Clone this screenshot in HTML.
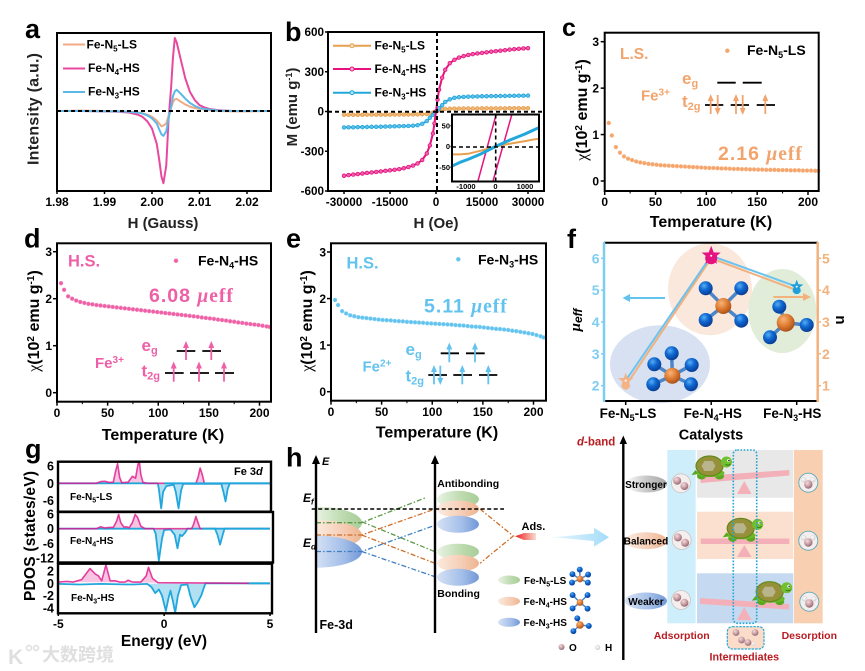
<!DOCTYPE html>
<html lang="en">
<head>
<meta charset="utf-8">
<title>Fe-N catalysts spin state figure</title>
<style>
html,body{margin:0;padding:0;background:#fff;}
svg{display:block;font-family:"Liberation Sans","Noto Sans CJK SC",sans-serif;font-weight:bold;filter:blur(.3px);}
.serif{font-family:"Liberation Serif",serif;}
</style>
</head>
<body>
<svg id="figure" xmlns="http://www.w3.org/2000/svg" width="865" height="671" viewBox="0 0 865 671">
<defs>
<radialGradient id="gb" cx="38%" cy="32%" r="70%"><stop offset="0" stop-color="#58aef2"/><stop offset=".45" stop-color="#0f68d2"/><stop offset="1" stop-color="#083c92"/></radialGradient>
<radialGradient id="go" cx="38%" cy="32%" r="70%"><stop offset="0" stop-color="#f8b478"/><stop offset=".55" stop-color="#dd7a30"/><stop offset="1" stop-color="#a85018"/></radialGradient>
<radialGradient id="gm" cx="38%" cy="32%" r="70%"><stop offset="0" stop-color="#f2dcdc"/><stop offset=".6" stop-color="#c598a0"/><stop offset="1" stop-color="#8e6670"/></radialGradient>
<radialGradient id="gw" cx="40%" cy="35%" r="70%"><stop offset="0" stop-color="#ffffff"/><stop offset="1" stop-color="#cfcfcf"/></radialGradient>
<linearGradient id="lg-green"><stop offset="0" stop-color="#e9f3e3"/><stop offset=".6" stop-color="#bcdaae"/><stop offset="1" stop-color="#a8cd98"/></linearGradient>
<linearGradient id="lg-peach"><stop offset="0" stop-color="#fbeade"/><stop offset=".6" stop-color="#f5cdb5"/><stop offset="1" stop-color="#edb48f"/></linearGradient>
<linearGradient id="lg-blue"><stop offset="0" stop-color="#d5e1f5"/><stop offset=".6" stop-color="#a3bee8"/><stop offset="1" stop-color="#7097d8"/></linearGradient>
<linearGradient id="lg-grey"><stop offset="0" stop-color="#ffffff"/><stop offset=".5" stop-color="#c8c8c8"/><stop offset="1" stop-color="#a8a8a8"/></linearGradient>
<linearGradient id="lg-red"><stop offset="0" stop-color="#ea1c1c"/><stop offset="1" stop-color="#fbdcd0"/></linearGradient>
<linearGradient id="lg-arrow"><stop offset="0" stop-color="#e6f6fe"/><stop offset="1" stop-color="#a4dcf8"/></linearGradient>
<marker id="ah-orange" markerWidth="7" markerHeight="7" refX="3" refY="3" orient="auto" markerUnits="userSpaceOnUse"><path d="M0 0L7 3L0 6z" fill="#f2a46d"/></marker>
<marker id="ah-pink" markerWidth="7" markerHeight="7" refX="3" refY="3" orient="auto" markerUnits="userSpaceOnUse"><path d="M0 0L7 3L0 6z" fill="#ee5fa7"/></marker>
<marker id="ah-blue" markerWidth="7" markerHeight="7" refX="3" refY="3" orient="auto" markerUnits="userSpaceOnUse"><path d="M0 0L7 3L0 6z" fill="#62c3ee"/></marker>
<g id="mol5">
<path d="M0 0L-18 -11.4M0 0L-.6 -22.4M0 0L19.4 -10.7M0 0L-19 8.6M0 0L18.7 8.6" stroke="#4a86c8" stroke-width="3.5"/>
<circle r="8" fill="url(#go)"/><circle cx="-18" cy="-11.4" r="7" fill="url(#gb)"/><circle cx="-.6" cy="-22.4" r="7" fill="url(#gb)"/><circle cx="19.4" cy="-10.7" r="7" fill="url(#gb)"/><circle cx="-19" cy="8.6" r="7" fill="url(#gb)"/><circle cx="18.7" cy="8.6" r="7" fill="url(#gb)"/>
</g>
<g id="mol4">
<path d="M0 0L-17.6 -17.7M0 0L18 -17.7M0 0L-17.6 14M0 0L18 14.7" stroke="#4a86c8" stroke-width="3.5"/>
<circle r="8" fill="url(#go)"/><circle cx="-17.6" cy="-17.7" r="7" fill="url(#gb)"/><circle cx="18" cy="-17.7" r="7" fill="url(#gb)"/><circle cx="-17.6" cy="14" r="7" fill="url(#gb)"/><circle cx="18" cy="14.7" r="7" fill="url(#gb)"/>
</g>
<g id="mol3">
<path d="M0 0L-6.4 -16M0 0L21 2.3M0 0L-15.7 14.6" stroke="#4a86c8" stroke-width="3.5"/>
<circle r="9" fill="url(#go)"/><circle cx="-6.4" cy="-16" r="7" fill="url(#gb)"/><circle cx="21" cy="2.3" r="7" fill="url(#gb)"/><circle cx="-15.7" cy="14.6" r="7" fill="url(#gb)"/>
</g>
<g id="turtle">
<ellipse cx="-10" cy="9" rx="4.5" ry="3.5" fill="#5aa820"/><ellipse cx="8" cy="9" rx="4.5" ry="3.5" fill="#5aa820"/><path d="M-16 3L-20 8L-12 7z" fill="#5aa820"/>
<ellipse cx="-1" cy="6" rx="14" ry="4" fill="#6bb82a"/>
<ellipse cx="-2" cy="-1" rx="13.5" ry="10" fill="#96903a" stroke="#5f8a18" stroke-width="1.2"/>
<polygon points="-7,-6 1,-6 4,-1 1,4 -7,4 -10,-1" fill="#b8b48c"/>
<circle cx="15" cy="-5" r="5.5" fill="#70c030"/><circle cx="17" cy="-6.5" r="1.4" fill="#fff"/><circle cx="17.4" cy="-6.4" r=".7" fill="#000"/><path d="M14 -2.5Q17 -1 19 -3" stroke="#2a5a10" stroke-width=".7" fill="none"/>
</g>
<g id="o2">
<circle cx="-3.8" cy="-2.6" r="4" fill="url(#gm)"/><circle cx="3.4" cy="2.8" r="4" fill="url(#gm)"/>
</g>
<g id="h2o">
<circle cx="-4.6" cy="-3.6" r="2.5" fill="url(#gw)" stroke="#ccc" stroke-width=".3"/><circle cx="4.6" cy="-3.6" r="2.5" fill="url(#gw)" stroke="#ccc" stroke-width=".3"/><circle cx="0" cy="1" r="4.2" fill="url(#gm)"/>
</g>
<clipPath id="clip-inset"><rect x="452" y="115" width="87" height="66"/></clipPath>
<clipPath id="clip-g1"><rect x="58" y="462" width="213" height="49"/></clipPath>
<clipPath id="clip-g2"><rect x="58" y="513" width="214" height="49"/></clipPath>
<clipPath id="clip-g3"><rect x="58" y="564" width="213" height="49"/></clipPath>
</defs>

<!-- panel a -->
<g id="panel-a">
<text x="25" y="38" font-size="27">a</text>
<g id="a-marks"></g>
<line x1="57" x2="271" y1="111" y2="111" stroke="#000" stroke-width="2" stroke-dasharray="4 3"/>
<rect x="57" y="33" width="214" height="158" fill="none" stroke="#000" stroke-width="2"/>
<g font-size="12">
<line x1="63" x2="85" y1="44.5" y2="44.5" stroke="#f0aa85" stroke-width="2"/>
<text x="86.5" y="48.5">Fe-N<tspan dy="3" font-size="8">5</tspan><tspan dy="-3">-LS</tspan></text>
<line x1="63" x2="85" y1="68.5" y2="68.5" stroke="#e8489f" stroke-width="2"/>
<text x="88" y="72">Fe-N<tspan dy="3" font-size="8">4</tspan><tspan dy="-3">-HS</tspan></text>
<line x1="63" x2="85" y1="92" y2="92" stroke="#5cb8e6" stroke-width="2"/>
<text x="88" y="95.5">Fe-N<tspan dy="3" font-size="8">3</tspan><tspan dy="-3">-HS</tspan></text>
</g>
<text transform="translate(38.5,109) rotate(-90)" text-anchor="middle" font-size="16" textLength="112" fill="#222">Intensity (a.u.)</text>
<text x="163" y="228" text-anchor="middle" font-size="15" fill="#222">H (Gauss)</text>
</g>

<!-- panel b -->
<g id="panel-b">
<text x="285" y="41" font-size="27">b</text>
<g id="b-marks"></g>
<line x1="328" x2="544" y1="111.7" y2="111.7" stroke="#000" stroke-width="2" stroke-dasharray="4 3"/>
<line x1="437" x2="437" y1="32" y2="191" stroke="#000" stroke-width="2" stroke-dasharray="4 3"/>
<rect x="328" y="32" width="216" height="159" fill="none" stroke="#000" stroke-width="2"/>
<rect x="452" y="114.5" width="87" height="67" fill="#fff"/>
<g id="b-inset" clip-path="url(#clip-inset)"></g>
<line x1="452" x2="539" y1="147" y2="147" stroke="#000" stroke-width="1.6" stroke-dasharray="4 3"/>
<line x1="495.7" x2="495.7" y1="114.5" y2="181" stroke="#000" stroke-width="1.6" stroke-dasharray="4 3"/>
<rect x="452" y="114.5" width="87" height="67" fill="none" stroke="#000" stroke-width="2"/>
<g id="b-inset-labels"></g>
<g font-size="12">
<line x1="333" x2="371" y1="45.7" y2="45.7" stroke="#e8a050" stroke-width="2"/>
<circle cx="352" cy="45.7" r="2" fill="#fbe0c0" stroke="#e8a050" stroke-width="1"/>
<text x="374.5" y="49.5">Fe-N<tspan dy="3" font-size="8">5</tspan><tspan dy="-3">-LS</tspan></text>
<line x1="333" x2="371" y1="69" y2="69" stroke="#e5127f" stroke-width="2"/>
<circle cx="352" cy="69" r="2" fill="#f8b0d0" stroke="#e5127f" stroke-width="1"/>
<text x="374.5" y="73">Fe-N<tspan dy="3" font-size="8">4</tspan><tspan dy="-3">-HS</tspan></text>
<line x1="333" x2="371" y1="92.7" y2="92.7" stroke="#22a7dc" stroke-width="2"/>
<circle cx="352" cy="92.7" r="2" fill="#b0e0f4" stroke="#22a7dc" stroke-width="1"/>
<text x="374.5" y="96.5">Fe-N<tspan dy="3" font-size="8">3</tspan><tspan dy="-3">-HS</tspan></text>
</g>
<text transform="translate(297,107) rotate(-90)" text-anchor="middle" font-size="15" fill="#222">M (emu g<tspan dy="-5" font-size="9">-1</tspan><tspan dy="5">)</tspan></text>
<text x="436" y="228" text-anchor="middle" font-size="15" fill="#222">H (Oe)</text>
</g>

<!-- panel c -->
<g id="panel-c">
<text x="562" y="36" font-size="25">c</text>
<g id="c-marks"></g>
<rect x="604.7" y="32.7" width="214" height="158.3" fill="none" stroke="#000" stroke-width="2"/>
<text x="620" y="59" font-size="15.5" fill="#f2a46d">L.S.</text>
<text x="747" y="55" font-size="14">Fe-N<tspan dy="3" font-size="9">5</tspan><tspan dy="-3">-LS</tspan></text>
<text x="718" y="160" font-size="19.5" fill="#f2a46d" letter-spacing="1">2.16 <tspan class="serif" font-style="italic">μ</tspan><tspan class="serif">eff</tspan></text>
<text x="641" y="100.5" font-size="15" fill="#f2a46d">Fe<tspan dy="-5" font-size="10">3+</tspan></text>
<text x="682" y="84" font-size="17" fill="#f2a46d">e<tspan dy="3" font-size="11">g</tspan></text>
<text x="682" y="107" font-size="17" fill="#f2a46d">t<tspan dy="3" font-size="11">2g</tspan></text>
<g stroke-width="1.8">
<path d="M717.3 82.7H735.7M742.7 82.7H761.7M705 105H723.3M730.7 105H749M756.7 105H775" stroke="#000" fill="none"/>
<g stroke="#f2a46d">
<line x1="710.7" x2="710.7" y1="114" y2="98" marker-end="url(#ah-orange)"/>
<line x1="717.7" x2="717.7" y1="95" y2="111" marker-end="url(#ah-orange)"/>
<line x1="736" x2="736" y1="114" y2="98" marker-end="url(#ah-orange)"/>
<line x1="742.7" x2="742.7" y1="95" y2="111" marker-end="url(#ah-orange)"/>
<line x1="765.3" x2="765.3" y1="114" y2="98" marker-end="url(#ah-orange)"/>
</g>
</g>
<text transform="translate(587,110) rotate(-90)" text-anchor="middle" font-size="16"><tspan class="serif" font-weight="normal">χ</tspan>(10<tspan dy="-5" font-size="10">2</tspan><tspan dy="5"> emu g</tspan><tspan dy="-5" font-size="10">-1</tspan><tspan dy="5">)</tspan></text>
<text x="711" y="227" text-anchor="middle" font-size="16">Temperature (K)</text>
</g>

<!-- panel d -->
<g id="panel-d">
<text x="24" y="247.5" font-size="27">d</text>
<g id="d-marks"></g>
<rect x="57" y="243.3" width="214" height="158.4" fill="none" stroke="#000" stroke-width="2"/>
<text x="68" y="266.5" font-size="16.5" fill="#ee5fa7">H.S.</text>
<text x="198" y="265.5" font-size="14">Fe-N<tspan dy="3" font-size="9">4</tspan><tspan dy="-3">-HS</tspan></text>
<text x="149" y="302" font-size="19.5" fill="#ee5fa7" letter-spacing="1">6.08 <tspan class="serif" font-style="italic">μ</tspan><tspan class="serif">eff</tspan></text>
<text x="95" y="368" font-size="15" fill="#ee5fa7">Fe<tspan dy="-5" font-size="10">3+</tspan></text>
<text x="141.5" y="351" font-size="17" fill="#ee5fa7">e<tspan dy="3" font-size="11">g</tspan></text>
<text x="141.5" y="376.5" font-size="17" fill="#ee5fa7">t<tspan dy="3" font-size="11">2g</tspan></text>
<g stroke-width="1.8">
<path d="M176.7 351H195.3M202.3 351H221M165 373H183.7M190 373H209M215 373H234" stroke="#000" fill="none"/>
<g stroke="#ee5fa7">
<line x1="186" x2="186" y1="360" y2="345" marker-end="url(#ah-pink)"/>
<line x1="211.3" x2="211.3" y1="360" y2="345" marker-end="url(#ah-pink)"/>
<line x1="173.7" x2="173.7" y1="381.7" y2="365.5" marker-end="url(#ah-pink)"/>
<line x1="199" x2="199" y1="381.7" y2="365.5" marker-end="url(#ah-pink)"/>
<line x1="224" x2="224" y1="381.7" y2="365.5" marker-end="url(#ah-pink)"/>
</g>
</g>
<text transform="translate(39,321) rotate(-90)" text-anchor="middle" font-size="16"><tspan class="serif" font-weight="normal">χ</tspan>(10<tspan dy="-5" font-size="10">2</tspan><tspan dy="5"> emu g</tspan><tspan dy="-5" font-size="10">-1</tspan><tspan dy="5">)</tspan></text>
<text x="163" y="440" text-anchor="middle" font-size="16">Temperature (K)</text>
</g>

<!-- panel e -->
<g id="panel-e">
<text x="286" y="247.5" font-size="27">e</text>
<g id="e-marks"></g>
<rect x="331" y="243.3" width="215" height="157.4" fill="none" stroke="#000" stroke-width="2"/>
<text x="346.5" y="268.5" font-size="16.5" fill="#62c3ee">H.S.</text>
<text x="478" y="264.5" font-size="14">Fe-N<tspan dy="3" font-size="9">3</tspan><tspan dy="-3">-HS</tspan></text>
<text x="424" y="312.5" font-size="19.5" fill="#62c3ee" letter-spacing="1">5.11 <tspan class="serif" font-style="italic">μ</tspan><tspan class="serif">eff</tspan></text>
<text x="362.5" y="371.5" font-size="15" fill="#62c3ee">Fe<tspan dy="-5" font-size="10">2+</tspan></text>
<text x="405.5" y="355" font-size="17" fill="#62c3ee">e<tspan dy="3" font-size="11">g</tspan></text>
<text x="405.5" y="381.5" font-size="17" fill="#62c3ee">t<tspan dy="3" font-size="11">2g</tspan></text>
<g stroke-width="1.8">
<path d="M440.7 353.3H459M466 353.3H484.7M428.3 375H447M453.3 375H472M479 375H497.3" stroke="#000" fill="none"/>
<g stroke="#62c3ee">
<line x1="449.3" x2="449.3" y1="362.3" y2="346.5" marker-end="url(#ah-blue)"/>
<line x1="475" x2="475" y1="362.3" y2="346.5" marker-end="url(#ah-blue)"/>
<line x1="434" x2="434" y1="384.3" y2="369" marker-end="url(#ah-blue)"/>
<line x1="440.3" x2="440.3" y1="365.7" y2="381" marker-end="url(#ah-blue)"/>
<line x1="462.3" x2="462.3" y1="384.3" y2="369" marker-end="url(#ah-blue)"/>
<line x1="488.3" x2="488.3" y1="384.3" y2="369" marker-end="url(#ah-blue)"/>
</g>
</g>
<text transform="translate(312,321) rotate(-90)" text-anchor="middle" font-size="16"><tspan class="serif" font-weight="normal">χ</tspan>(10<tspan dy="-5" font-size="10">2</tspan><tspan dy="5"> emu g</tspan><tspan dy="-5" font-size="10">-1</tspan><tspan dy="5">)</tspan></text>
<text x="437" y="437.5" text-anchor="middle" font-size="16">Temperature (K)</text>
</g>

<!-- panel f -->
<g id="panel-f">
<text x="567" y="248" font-size="27">f</text>
<ellipse cx="660" cy="364.3" rx="50" ry="39" fill="#d8e1f1"/>
<ellipse cx="710" cy="289.3" rx="42" ry="46" fill="#fbe8dc"/>
<ellipse cx="782.3" cy="311" rx="34" ry="42" fill="#e2edd9"/>
<use href="#mol5" transform="translate(672.3,375.7)"/>
<use href="#mol4" transform="translate(723.3,306)"/>
<use href="#mol3" transform="translate(785.7,322.7)"/>
<line x1="604" x2="818" y1="242.7" y2="242.7" stroke="#000" stroke-width="2"/>
<line x1="604" x2="818" y1="401" y2="401" stroke="#000" stroke-width="2"/>
<line x1="604" x2="604" y1="242" y2="402" stroke="#7fcdf0" stroke-width="2.5"/>
<line x1="817.7" x2="817.7" y1="242" y2="402" stroke="#f2b27e" stroke-width="2.5"/>
<g id="f-marks"></g>
<path d="M665 297H630V294L622.5 298L630 302V299H665z" fill="#62c3ee"/>
<path d="M773.3 296H803V293L811 297L803 301V298H773.3z" fill="#f2b27e"/>
<text transform="translate(580,320) rotate(-90)" text-anchor="middle" font-size="15" font-style="italic" class="serif"><tspan>μ</tspan><tspan dy="2" font-size="12" font-family="Liberation Sans">eff</tspan></text>
<text transform="translate(836,320) rotate(90)" text-anchor="middle" font-size="15">n</text>
<text x="711" y="439.5" text-anchor="middle" font-size="14.5">Catalysts</text>
</g>

<!-- panel g -->
<g id="panel-g">
<text x="25" y="458" font-size="27">g</text>
<g id="g-marks"></g>
<rect x="58" y="461.7" width="213" height="50" fill="none" stroke="#000" stroke-width="2.4"/>
<rect x="58" y="512" width="215" height="50.5" fill="none" stroke="#000" stroke-width="2.4"/>
<rect x="58" y="563.7" width="214" height="49.6" fill="none" stroke="#000" stroke-width="2.4"/>
<text x="234" y="475" font-size="11">Fe 3<tspan font-style="italic">d</tspan></text>
<text x="70" y="500" font-size="10">Fe-N<tspan dy="2.5" font-size="7">5</tspan><tspan dy="-2.5">-LS</tspan></text>
<text x="70" y="544" font-size="10">Fe-N<tspan dy="2.5" font-size="7">4</tspan><tspan dy="-2.5">-HS</tspan></text>
<text x="71" y="601" font-size="10">Fe-N<tspan dy="2.5" font-size="7">3</tspan><tspan dy="-2.5">-HS</tspan></text>
<text transform="translate(35,536) rotate(-90)" text-anchor="middle" font-size="15.5" textLength="130">PDOS (states/eV)</text>
<text x="164" y="646" text-anchor="middle" font-size="15.5">Energy (eV)</text>
</g>

<!-- watermark -->
<g fill="#dfdfdf">
<text x="8" y="664" font-size="21">K</text>
<circle cx="29" cy="648" r="2.5" fill="none" stroke="#dfdfdf" stroke-width="1.5"/>
<circle cx="36" cy="648" r="2.5" fill="none" stroke="#dfdfdf" stroke-width="1.5"/>
<text x="42" y="661" font-size="18">大数跨境</text>
</g>

<!-- panel h -->
<g id="panel-h">
<text x="286" y="466.5" font-size="27">h</text>
<g>
<path d="M316 506.7A46 16 0 0 1 316 538.7Z" fill="url(#lg-green)"/>
<path d="M316 520A46 15 0 0 1 316 550Z" fill="url(#lg-peach)"/>
<path d="M316 535.7A46 16 0 0 1 316 567.7Z" fill="url(#lg-blue)"/>
</g>
<g>
<ellipse cx="458" cy="499.3" rx="21" ry="8.5" fill="url(#lg-green)"/>
<ellipse cx="458" cy="509" rx="21" ry="8.5" fill="url(#lg-peach)"/>
<ellipse cx="458" cy="524.3" rx="21" ry="8.5" fill="url(#lg-blue)"/>
<ellipse cx="458" cy="551.7" rx="21" ry="8" fill="url(#lg-green)"/>
<ellipse cx="458" cy="563.3" rx="21" ry="8.5" fill="url(#lg-peach)"/>
<ellipse cx="458" cy="577.3" rx="21" ry="8.5" fill="url(#lg-blue)"/>
</g>
<g fill="none" stroke-width="1.3" stroke-dasharray="5 2 1.5 2">
<path d="M316 522.7H361.7L426.7 497.3M361.7 521.7L435 551.7" stroke="#5d9a48"/>
<path d="M316 535H361.7L435 509M361.7 535L435 563.3M480 509L513.3 536L480 563.3" stroke="#cf6e28"/>
<path d="M316 551.5H361.7L435 525.3M361.7 551.5L435 576.7" stroke="#3f7fc4"/>
</g>
<line x1="311.7" x2="504" y1="509" y2="509" stroke="#000" stroke-width="1.6" stroke-dasharray="4 2.5"/>
<line x1="316" x2="316" y1="633" y2="462" stroke="#000" stroke-width="2.4"/>
<path d="M316 455L320 464H312z" fill="#000"/>
<line x1="435" x2="435" y1="633" y2="462" stroke="#000" stroke-width="2.4"/>
<path d="M435 455L439 464H431z" fill="#000"/>
<path d="M515 536.3L524 533H536V540H524z" fill="url(#lg-red)"/>
<text x="521.5" y="530" font-size="11">Ads.</text>
<text x="322" y="465" font-size="11" font-style="italic">E</text>
<text x="303" y="502" font-size="12" font-style="italic">E<tspan dy="2.5" font-size="8">f</tspan></text>
<text x="303" y="547" font-size="12" font-style="italic">E<tspan dy="2.5" font-size="8">d</tspan></text>
<text x="437.3" y="487" font-size="10.5">Antibonding</text>
<text x="437.3" y="597" font-size="10.5">Bonding</text>
<text x="319.5" y="629" font-size="12.5">Fe-3d</text>
<g font-size="10">
<ellipse cx="509" cy="580" rx="11" ry="4.5" fill="url(#lg-green)"/>
<text x="524" y="584">Fe-N<tspan dy="2.5" font-size="7">5</tspan><tspan dy="-2.5">-LS</tspan></text>
<ellipse cx="509" cy="601.3" rx="11" ry="4.5" fill="url(#lg-peach)"/>
<text x="523.5" y="605">Fe-N<tspan dy="2.5" font-size="7">4</tspan><tspan dy="-2.5">-HS</tspan></text>
<ellipse cx="509" cy="622.3" rx="11" ry="4.5" fill="url(#lg-blue)"/>
<text x="523.5" y="626">Fe-N<tspan dy="2.5" font-size="7">3</tspan><tspan dy="-2.5">-HS</tspan></text>
<use href="#mol5" transform="translate(580,579) scale(.42)"/>
<use href="#mol4" transform="translate(580,602.5) scale(.42)"/>
<use href="#mol3" transform="translate(580,625) scale(.42)"/>
<circle cx="561.5" cy="647" r="3" fill="url(#gm)"/>
<text x="569" y="651">O</text>
<circle cx="597.7" cy="647.5" r="2.3" fill="url(#gw)" stroke="#bbb" stroke-width=".3"/>
<text x="605" y="651">H</text>
</g>
<path d="M553 537.3L594 533.5V527.8L609 537.3L594 546.8V541z" fill="url(#lg-arrow)"/>
</g>

<!-- sabatier schematic -->
<g>
<line x1="623.3" x2="623.3" y1="660" y2="441" stroke="#000" stroke-width="2.4"/>
<path d="M623.3 435.5L627 444H619.6z" fill="#000"/>
<text x="577" y="445.5" font-size="11.5" fill="#b81c22"><tspan font-style="italic">d</tspan>-band</text>
<rect x="667.3" y="450" width="28.4" height="173.3" fill="#cfeefb"/>
<rect x="697" y="450" width="96.3" height="47.7" fill="#e8e8e8"/>
<rect x="697" y="511.7" width="96.3" height="47.3" fill="#fbe0d0"/>
<rect x="697" y="573.3" width="96.3" height="50" fill="#c5daf0"/>
<rect x="794" y="450" width="28.7" height="173.3" fill="#f8cfb0"/>
<ellipse cx="646" cy="484" rx="21" ry="8.5" fill="url(#lg-grey)"/>
<ellipse cx="646" cy="540.7" rx="21" ry="8.5" fill="url(#lg-peach)"/>
<ellipse cx="646" cy="601" rx="21" ry="8.5" fill="url(#lg-blue)"/>
<text x="646" y="488" font-size="10" text-anchor="middle">Stronger</text>
<text x="646" y="544.5" font-size="10" text-anchor="middle">Balanced</text>
<text x="646" y="605" font-size="10" text-anchor="middle">Weaker</text>
<g fill="#f4b0b8">
<polygon points="700.7,476 789.3,470 789.3,475.5 700.7,483"/>
<polygon points="744.3,481 751.5,494 737,494"/>
<rect x="700.7" y="538.5" width="88.6" height="5.5"/>
<polygon points="744.3,545 751.5,557 737,557"/>
<polygon points="700,598 789.3,604 789.3,609.5 700,604"/>
<polygon points="744.3,607 751.5,620 737,620"/>
</g>
<use href="#turtle" transform="translate(711.5,467)"/>
<use href="#turtle" transform="translate(742.7,529.3)"/>
<use href="#turtle" transform="translate(771.7,592.7)"/>
<rect x="733.3" y="450" width="23.4" height="173.3" rx="4" fill="none" stroke="#1fa5d8" stroke-width="1.6" stroke-dasharray="1.6 1.6"/>
<g fill="#f4eeee" stroke="#c8c4c4" stroke-width=".8">
<circle cx="681" cy="483.3" r="9.5"/>
<circle cx="681.7" cy="540" r="9.5"/>
<circle cx="681" cy="600" r="9.5"/>
</g>
<use href="#o2" transform="translate(681,483.3)"/>
<use href="#o2" transform="translate(681.7,540)"/>
<use href="#o2" transform="translate(681,600)"/>
<g fill="#f4eeee" stroke="#5ba8b8" stroke-width=".9">
<circle cx="808.3" cy="482.7" r="9.5"/>
<circle cx="808.3" cy="540.7" r="9.5"/>
<circle cx="809.3" cy="601.7" r="9.5"/>
</g>
<use href="#h2o" transform="translate(808.3,483.5)"/>
<use href="#h2o" transform="translate(808.3,541.5)"/>
<use href="#h2o" transform="translate(809.3,602.5)"/>
<rect x="727.3" y="626.7" width="36.7" height="22.3" rx="5" fill="#fbdcc8" stroke="#28a8d8" stroke-width="1.2" stroke-dasharray="2.5 1"/>
<g>
<circle cx="736" cy="632.5" r="3.4" fill="url(#gm)"/>
<circle cx="755" cy="632.5" r="3.4" fill="url(#gm)"/>
<circle cx="741.5" cy="640" r="3.4" fill="url(#gm)"/>
<circle cx="748" cy="642.5" r="3.4" fill="url(#gm)"/>
<circle cx="753.5" cy="644" r="1.8" fill="url(#gw)"/>
</g>
<text x="681.7" y="639" font-size="10.5" text-anchor="middle" fill="#b81c22">Adsorption</text>
<text x="809.3" y="639" font-size="10.5" text-anchor="middle" fill="#b81c22">Desorption</text>
<text x="744.3" y="660.5" font-size="10.7" text-anchor="middle" fill="#b81c22">Intermediates</text>
</g>

<script>
// ---------- panel a: EPR ----------
const aField=[1.98,1.985,1.99,1.993,1.995,1.997,1.998,1.999,2.0,2.001,2.0015,2.002,2.0024,2.003,2.0035,2.004,2.0044,2.0048,2.0052,2.006,2.007,2.008,2.009,2.01,2.011,2.012,2.014,2.017,2.02,2.025];
const aN4=[0,0,-.005,-.01,-.02,-.05,-.08,-.14,-.24,-.45,-.66,-.9,-.99,-.75,-.1,.3,.72,1,.94,.72,.45,.26,.15,.08,.05,.03,.01,0,0,0];
const aN3=[0,0,-.003,-.005,-.01,-.02,-.035,-.06,-.1,-.17,-.25,-.32,-.34,-.28,-.1,.05,.2,.27,.29,.24,.17,.11,.07,.04,.03,.02,.005,0,0,0];
const aN5=[0,.005,0,-.005,-.01,-.02,-.03,-.05,-.08,-.13,-.17,-.21,-.2,-.17,-.06,.04,.12,.16,.165,.13,.09,.06,.04,.03,.02,.01,0,-.005,-.005,0];
const aTicks=[1.98,1.99,2.0,2.01,2.02];
const aTickLabels=['1.98','1.99','2.00','2.01','2.02'];

// ---------- panel b: M-H ----------
const bField=[-30000,-28500,-27000,-25500,-24000,-22500,-21000,-19500,-18000,-16500,-15000,-13500,-12000,-10500,-9000,-7500,-6000,-4500,-3000,-2000,-1000,-500,0,500,1000,2000,3000,4500,6000,7500,9000,10500,12000,13500,15000,16500,18000,19500,21000,22500,24000,25500,27000,28500,30000];
const bN4=[-485,-480,-476,-472,-468,-464,-460,-456,-452,-448,-444,-440,-435,-428,-419,-408,-392,-366,-316,-256,-166,-90,0,90,165,255,315,365,390,407,418,427,433,438,442,447,451,455,459,463,467,470,473,476,478];
const bN3=[-120,-119,-119,-118,-118,-117,-116,-116,-115,-114,-113,-112,-111,-110,-109,-107,-103,-93,-72,-48,-25,-12,0,12,25,48,72,92,103,108,110,112,113,114,115,115,116,116,117,117,118,118,119,119,120];
const bN5=[-25,-25,-25,-25,-25,-24,-24,-24,-24,-24,-24,-23,-23,-23,-23,-22,-22,-21,-19,-15,-9,-5,0,5,9,15,19,21,22,22,23,23,23,23,24,24,24,24,24,24,25,25,25,25,25];
const bXTicks=[-30000,-15000,0,15000,30000];
const bXLabels=['-30000','-15000','0','15000','30000'];
const bYTicks=[600,300,0,-300,-600];
const bYLabels=['600','300','0','-300','-600'];
const insetField=[-1500,-1200,-900,-500,0,500,1000,1300,1500];
const insetN3=[-48,-38,-30,-18,0,16,30,40,46];
const insetN5=[-19,-19,-17,-10,0,7,13,17,19];
const insetLoopLeftH=[-590,34];
const insetLoopLeftM=[-82,80];
const insetLoopRightH=[-80,567];
const insetLoopRightM=[-82,80];
const insetXTicks=[-1000,0,1000];
const insetXLabels=['-1000','0','1000'];
const insetYTicks=[50,0,-50];
const insetYLabels=['50','0','-50'];

// ---------- panels c, d, e: chi-T ----------
const chiTemperature=[4,7,11,15,19,23,27,31,35,39,43,47,51,55,59,63,67,71,75,79,83,87,91,95,99,103,107,111,115,119,123,127,131,135,139,143,147,151,155,159,163,167,171,175,179,183,187,191,195,199,203,207,210];
const chiN5=[1.25,.98,.73,.61,.53,.48,.45,.42,.40,.385,.37,.36,.35,.34,.335,.33,.325,.32,.315,.31,.305,.30,.295,.29,.285,.28,.28,.275,.27,.27,.265,.26,.26,.255,.255,.25,.25,.245,.245,.24,.24,.24,.235,.235,.235,.23,.23,.23,.225,.225,.225,.22,.22];
const chiN4=[2.33,2.19,2.05,2.0,1.96,1.93,1.91,1.89,1.88,1.865,1.855,1.845,1.835,1.825,1.815,1.805,1.795,1.785,1.775,1.765,1.755,1.745,1.735,1.725,1.715,1.705,1.695,1.685,1.675,1.665,1.655,1.645,1.635,1.625,1.615,1.6,1.59,1.58,1.57,1.555,1.545,1.535,1.52,1.51,1.495,1.485,1.47,1.46,1.45,1.44,1.425,1.41,1.40];
const chiN3=[1.97,1.86,1.73,1.68,1.64,1.62,1.60,1.59,1.58,1.57,1.56,1.55,1.54,1.535,1.53,1.52,1.515,1.51,1.50,1.495,1.49,1.485,1.48,1.47,1.465,1.46,1.455,1.45,1.445,1.44,1.43,1.425,1.42,1.41,1.40,1.395,1.39,1.38,1.37,1.36,1.35,1.345,1.335,1.325,1.31,1.30,1.285,1.27,1.255,1.24,1.215,1.19,1.165];
const chiXTicks=[0,50,100,150,200];
const chiXLabels=['0','50','100','150','200'];
const chiXMinor=[25,75,125,175];
const chiYTicks=[0,1,2,3];
const chiYLabels=['0','1','2','3'];

// ---------- panel f ----------
const catalysts=['Fe-N5-LS','Fe-N4-HS','Fe-N3-HS'];
const catalystSubs=['5','4','3'];
const catalystEnds=['-LS','-HS','-HS'];
const muEff=[2.16,6.08,5.11];
const nElectrons=[1,5,4];
const fLeftTicks=[2,3,4,5,6];
const fLeftLabels=['2','3','4','5','6'];
const fRightTicks=[1,2,3,4,5];
const fRightLabels=['1','2','3','4','5'];

// ---------- panel g: PDOS ----------
const g1UpE=[-5,-3.2,-3,-2.8,-2.6,-2.4,-2.3,-2.2,-2.1,-2,-1.7,-1.5,-1.35,-1.25,-1.18,-1.1,-1,-.8,1.5,1.6,1.7,1.8,1.9,5];
const g1Up=[0,0,.6,.7,.3,.4,4,6.8,2,.2,.4,2.4,1.8,6,8,3,.3,0,0,2,5.3,3,0,0];
const g1DownE=[-5,-.4,-.3,-.25,-.14,-.05,.1,.3,.45,.55,.68,.8,.9,2.7,2.8,2.9,3,3.1,5];
const g1Down=[0,0,0,-2,-8.7,-3,-1,-.7,-.5,-3,-8.7,-2.5,-.2,-.2,-3,-6.3,-2,0,0];
const g2UpE=[-5,-3.2,-3,-2.8,-2.6,-2.4,-2.25,-2.15,-2.05,-1.9,-1.8,-1.65,-1.5,-1.37,-1.25,-1.1,-.9,1.3,1.4,1.5,1.6,1.7,5];
const g2Up=[0,0,.8,.3,.5,.5,3,5.8,2.5,.6,.8,.4,2.5,5.8,4.5,1,0,0,2,5,2.5,0,0];
const g2DownE=[-5,-.5,-.4,-.25,-.1,0,.3,.5,.63,.75,.85,1,1.1,2.4,2.52,2.64,2.75,2.85,5];
const g2Down=[0,0,-2,-13,-4,-.5,-.3,-2.5,-8,-2.5,-3,-1.5,0,0,-2.5,-6.5,-3,0,0];
const g3UpE=[-5,-4.6,-4.3,-3.9,-3.5,-3.25,-3.1,-2.95,-2.75,-2.55,-2.3,-2.1,-1.85,-1.7,-1.5,-1.3,-1.1,-.85,-.74,-.55,-.3,4,5];
const g3Up=[.2,.3,.2,.6,2.4,1.5,1.2,.4,3,.4,.4,.2,.2,.5,.2,.2,.2,1.2,2.6,.8,.1,0,0];
const g3DownE=[-5,-4,-3,-1.5,-.8,-.6,-.42,-.25,-.1,.08,.2,.3,.42,.52,.65,.8,1.1,1.25,1.43,1.6,1.75,1.95,5];
const g3Down=[-.1,-.2,-.1,-.2,-.1,-.6,-1.6,-1,-2,-4.5,-2.5,-1.2,-3,-4.8,-2,-.3,-.2,-2.2,-3.9,-3,-2,0,0];
const gXTicks=[-5,0,5];
const gXLabels=['-5','0','5'];
const g1YTicks=[6,0,-6];
const g1YLabels=['6','0','-6'];
const g2YTicks=[6,0,-6,-12];
const g2YLabels=['6','0','-6','-12'];
const g3YTicks=[2,0,-2,-4];
const g3YLabels=['2','0','-2','-4'];

// ---------- helpers ----------
const NS='http://www.w3.org/2000/svg';
function make(tag,attrs,parent){
  const el=document.createElementNS(NS,tag);
  for(const k in attrs){el.setAttribute(k,attrs[k]);}
  parent.appendChild(el);
  return el;
}
function linear(d0,d1,r0,r1){return v=>r0+(v-d0)*(r1-r0)/(d1-d0);}
function pathOf(xs,ys,sx,sy){return xs.map((x,i)=>(i?'L':'M')+sx(x).toFixed(2)+' '+sy(ys[i]).toFixed(2)).join('');}
function byId(id){return document.getElementById(id);}

function drawLine(parent,xs,ys,sx,sy,color,width,name){
  const p=make('path',{d:pathOf(xs,ys,sx,sy),fill:'none',stroke:color,'stroke-width':width,'stroke-linejoin':'round'},parent);
  
  
  return p;
}
function drawPoints(parent,xs,ys,sx,sy,r,fill,stroke,sw,name){
  xs.forEach((x,i)=>{
    const c=make('circle',{cx:sx(x).toFixed(2),cy:sy(ys[i]).toFixed(2),r:r,fill:fill,stroke:stroke,'stroke-width':sw},parent);
    
    
  });
}
function drawXTicks(parent,vals,labels,sx,yBase,labelY,size,len,color){
  vals.forEach((v,i)=>{
    const t=make('line',{x1:sx(v),x2:sx(v),y1:yBase,y2:yBase+len,stroke:color||'#000','stroke-width':1.5},parent);
    
    
    const l=make('text',{x:sx(v),y:labelY,'text-anchor':'middle','font-size':size},parent);
    l.textContent=labels[i];
    
    
  });
}
function drawMinorX(parent,vals,sx,yBase,len){
  vals.forEach(v=>{
    const t=make('line',{x1:sx(v),x2:sx(v),y1:yBase,y2:yBase+len,stroke:'#000','stroke-width':1},parent);
    
    
  });
}
function drawYTicks(parent,vals,labels,sy,xBase,labelX,size,len,color,anchor){
  vals.forEach((v,i)=>{
    const t=make('line',{x1:xBase,x2:xBase-len,y1:sy(v),y2:sy(v),stroke:color||'#000','stroke-width':1.5},parent);
    
    
    const l=make('text',{x:labelX,y:sy(v)+size*.36,'text-anchor':anchor||'end','font-size':size,fill:color||'#000'},parent);
    l.textContent=labels[i];
    
    
  });
}

// ---------- render panel a ----------
const aG=byId('a-marks');
const ax=linear(1.98,2.02,57,247);
const ay=linear(0,1,111,38);
drawLine(aG,aField,aN4,ax,ay,'#e8489f',2,'series-fe-n4-hs');
drawLine(aG,aField,aN5,ax,ay,'#f0aa85',2,'series-fe-n5-ls');
drawLine(aG,aField,aN3,ax,ay,'#5cb8e6',2,'series-fe-n3-hs');
drawXTicks(aG,aTicks,aTickLabels,ax,191,206,12,3);

// ---------- render panel b ----------
const bG=byId('b-marks');
const bx=linear(-30000,30000,344,528);
const by=linear(-600,600,191,32);
drawLine(bG,bField,bN5,bx,by,'#e8a050',2,'series-fe-n5-ls');
drawPoints(bG,bField,bN5,bx,by,1.8,'#f0b878','#e8a050',.8,'point-fe-n5-ls');
drawLine(bG,bField,bN3,bx,by,'#22a7dc',2,'series-fe-n3-hs');
drawPoints(bG,bField,bN3,bx,by,1.8,'#60c0e8','#22a7dc',.8,'point-fe-n3-hs');
drawLine(bG,bField,bN4,bx,by,'#e5127f',2,'series-fe-n4-hs');
drawPoints(bG,bField,bN4,bx,by,1.8,'#ee60a8','#e5127f',.8,'point-fe-n4-hs');
drawXTicks(bG,bXTicks,bXLabels,bx,191,206,11.7,3);
drawYTicks(bG,bYTicks,bYLabels,by,328,324,11.7,3);

const inG=byId('b-inset');
const ix=linear(-1000,1000,466,525);
const iy=linear(-50,50,167.3,125.7);
drawLine(inG,insetLoopLeftH,insetLoopLeftM,ix,iy,'#e5127f',1.5,'inset-loop-descending');
drawLine(inG,insetLoopRightH,insetLoopRightM,ix,iy,'#e5127f',1.5,'inset-loop-ascending');
drawLine(inG,insetField,insetN5,ix,iy,'#e8a050',2,'inset-series-fe-n5-ls');
drawLine(inG,insetField,insetN3,ix,iy,'#22a7dc',3,'inset-series-fe-n3-hs');
const inL=byId('b-inset-labels');
drawXTicks(inL,insetXTicks,insetXLabels,ix,181,189,7.5,1.5);
drawYTicks(inL,insetYTicks,insetYLabels,iy,452,450,7.5,1.5);

// ---------- render panels c, d, e ----------
const cx=linear(0,200,604.7,808);
const cy=linear(0,3,181,41.7);
const cG=byId('c-marks');
drawPoints(cG,chiTemperature,chiN5,cx,cy,1.9,'#f5a56b','#f7b98c',.6,'point-fe-n5-ls');
drawXTicks(cG,chiXTicks,chiXLabels,cx,191,206,12,4);
drawMinorX(cG,chiXMinor,cx,191,2.5);
drawYTicks(cG,chiYTicks,chiYLabels,cy,604.7,599,12,4);
const cLegend=make('circle',{cx:727.3,cy:50.7,r:2,fill:'#f5a56b',stroke:'#f7b98c','stroke-width':.6},cG);



const dx=linear(0,200,57,259.5);
const dy=linear(0,3,392.7,251.7);
const dG=byId('d-marks');
drawPoints(dG,chiTemperature,chiN4,dx,dy,1.9,'#ee5fa7','#f28abd',.6,'point-fe-n4-hs');
drawXTicks(dG,chiXTicks,chiXLabels,dx,401.7,417,12,4);
drawMinorX(dG,chiXMinor,dx,401.7,2.5);
drawYTicks(dG,chiYTicks,chiYLabels,dy,57,52,12,4);
const dLegend=make('circle',{cx:176,cy:260.7,r:2,fill:'#ee5fa7',stroke:'#f28abd','stroke-width':.6},dG);



const ex=linear(0,200,331,533.5);
const ey=linear(0,3,391.7,252);
const eG=byId('e-marks');
drawPoints(eG,chiTemperature,chiN3,ex,ey,1.9,'#62c3ee','#8ad4f4',.6,'point-fe-n3-hs');
drawXTicks(eG,chiXTicks,chiXLabels,ex,400.7,416,12,4);
drawMinorX(eG,chiXMinor,ex,400.7,2.5);
drawYTicks(eG,chiYTicks,chiYLabels,ey,331,326,12,4);
const eLegend=make('circle',{cx:458.3,cy:259.3,r:2,fill:'#62c3ee',stroke:'#8ad4f4','stroke-width':.6},eG);



// ---------- render panel f ----------
const fG=byId('f-marks');
const fIdx=[0,1,2];
const fx=linear(0,2,625.7,796.7);
const fyMu=linear(2,6,385.7,258.3);
const fyN=linear(1,5,385.7,258.3);
drawLine(fG,fIdx,nElectrons,fx,fyN,'#f0b080',2,'series-n');
drawLine(fG,fIdx,muEff,fx,fyMu,'#6cc4ee',2,'series-mu-eff');
const fColors=['#f5b285','#e5127f','#1f9fdc'];
const fStarR=[8,10,7];
const fDotR=[4,6,4];
catalysts.forEach((cat,i)=>{
  const c=make('circle',{cx:fx(i),cy:fyN(nElectrons[i]),r:fDotR[i],fill:fColors[i]},fG);
  
  
  const pts=[];
  for(let k=0;k<10;k++){
    const a=-Math.PI/2+k*Math.PI/5;
    const r=k%2?fStarR[i]*.42:fStarR[i];
    pts.push((fx(i)+r*Math.cos(a)).toFixed(2)+','+(fyMu(muEff[i])+r*Math.sin(a)).toFixed(2));
  }
  const s=make('polygon',{points:pts.join(' '),fill:fColors[i]},fG);
  
  
  const d=make('circle',{cx:fx(i),cy:fyMu(muEff[i]),r:1,fill:'#fff'},fG);
  
  
  const tick=make('line',{x1:fx(i),x2:fx(i),y1:401,y2:405,stroke:'#000','stroke-width':1.5},fG);
  
  
});
const fLabelCenters=[628,712.7,792.3];
catalystSubs.forEach((sub,i)=>{
  const t=make('text',{x:fLabelCenters[i],y:418,'text-anchor':'middle','font-size':13.5},fG);
  
  
  t.appendChild(document.createTextNode('Fe-N'));
  const s=make('tspan',{dy:3,'font-size':9},t);
  s.textContent=sub;
  const e=make('tspan',{dy:-3},t);
  e.textContent=catalystEnds[i];
});
drawYTicks(fG,fLeftTicks,fLeftLabels,fyMu,604,599.5,14,3,'#7fcdf0');
drawYTicks(fG,fRightTicks,fRightLabels,fyN,821,822,14,3,'#f2b27e','start');

// ---------- render panel g ----------
const gG=byId('g-marks');
const gx=linear(-5,5,58.3,270);
function pdosFrame(upE,up,downE,down,sy,clip,tag,blueOverlayStart){
  const holder=make('g',{'clip-path':'url(#'+clip+')'},gG);
  
  
  const fd=make('path',{d:pathOf(downE,down,gx,sy)+'Z',fill:'#22a7dc','fill-opacity':.35},holder);
  
  
  const fu=make('path',{d:pathOf(upE,up,gx,sy)+'Z',fill:'#e0148a','fill-opacity':.25},holder);
  
  
  drawLine(holder,downE,down,gx,sy,'#22a7dc',1.8,'spin-down-line');
  const u=drawLine(holder,upE,up,gx,sy,'#e0148a',1.6,'spin-up-line');
  u.setAttribute('stroke-opacity','.8');
  const o=make('line',{x1:gx(blueOverlayStart),x2:gx(5),y1:sy(0),y2:sy(0),stroke:'#22a7dc','stroke-width':1.8},holder);
  
  
}
const g1y=linear(0,6,483.3,466);
const g2y=linear(0,6,528.7,514);
const g3y=linear(0,2,583.3,571);
pdosFrame(g1UpE,g1Up,g1DownE,g1Down,g1y,'clip-g1','fe-n5-ls',0);
pdosFrame(g2UpE,g2Up,g2DownE,g2Down,g2y,'clip-g2','fe-n4-hs',1.8);
pdosFrame(g3UpE,g3Up,g3DownE,g3Down,g3y,'clip-g3','fe-n3-hs',4);
drawYTicks(gG,g1YTicks,g1YLabels,g1y,58,54,12.5,0);
drawYTicks(gG,g2YTicks,g2YLabels,g2y,58,54,12.5,0);
drawYTicks(gG,g3YTicks,g3YLabels,g3y,58,54,12.5,0);
drawXTicks(gG,gXTicks,gXLabels,gx,614,628,12,2);
</script>
</svg>
</body>
</html>
